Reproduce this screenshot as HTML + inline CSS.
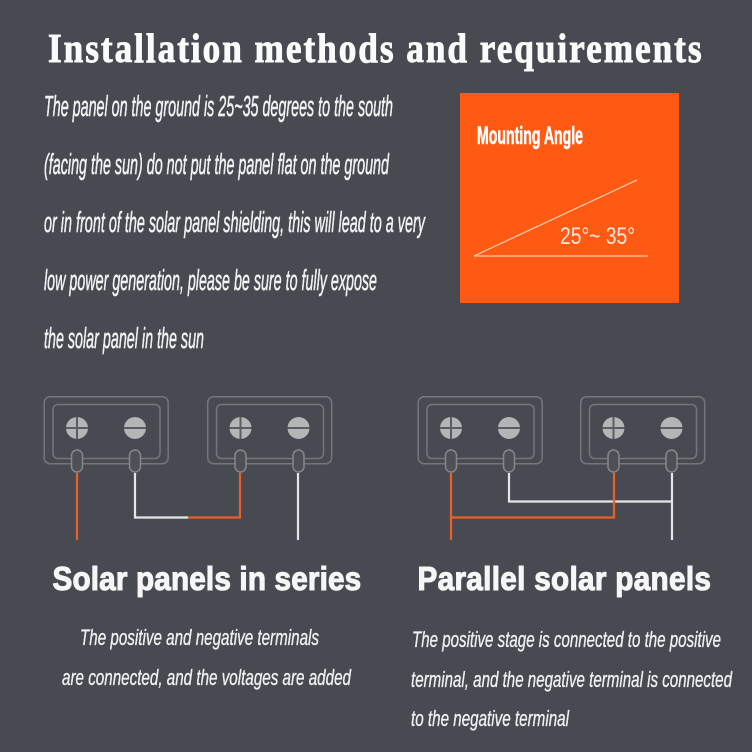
<!DOCTYPE html>
<html><head><meta charset="utf-8"><style>
html,body{margin:0;padding:0;background:#474b51;width:752px;height:752px;overflow:hidden}
svg{display:block}
.p{font-family:"Liberation Sans",sans-serif;font-style:italic;fill:#f2f2f3;font-size:29px;stroke:#f2f2f3;stroke-width:.55}
.c{font-family:"Liberation Sans",sans-serif;font-style:italic;fill:#f0f0f1;font-size:22px;stroke:#f0f0f1;stroke-width:.35}
.h{font-family:"Liberation Sans",sans-serif;font-weight:bold;fill:#f6f6f7;font-size:33px;stroke:#f6f6f7;stroke-width:1.1}
</style></head><body>
<svg width="752" height="752" viewBox="0 0 752 752" xmlns="http://www.w3.org/2000/svg">
<defs>
<g id="panel" fill="none">
  <rect x="0.7" y="0.7" width="124" height="67" rx="6" stroke="#73777b" stroke-width="1.5"/>
  <rect x="9.5" y="8.5" width="107" height="54" rx="5" stroke="#73777b" stroke-width="1.5"/>
  <circle cx="33.5" cy="32" r="11" fill="#b4b5b7"/>
  <path d="M33.5 21v22M22.5 32h22" stroke="#5a5d62" stroke-width="2"/>
  <circle cx="91.5" cy="32" r="11" fill="#b4b5b7"/>
  <path d="M80.5 32h22" stroke="#5a5d62" stroke-width="2"/>
  <rect x="28" y="54" width="11" height="22" rx="5.5" fill="#4d5156" stroke="#85888b" stroke-width="1.5"/>
  <rect x="86" y="54" width="11" height="22" rx="5.5" fill="#4d5156" stroke="#85888b" stroke-width="1.5"/>
</g>
</defs>
<rect width="752" height="752" fill="#474b51"/>
<text transform="translate(48,62) scale(.86,1)" x="0" y="0" textLength="760" lengthAdjust="spacing" font-family="'Liberation Serif',serif" font-weight="bold" font-size="41" fill="#fafafa" stroke="#fafafa" stroke-width=".9">Installation methods and requirements</text>

<text class="p" x="44" y="116" textLength="349" lengthAdjust="spacingAndGlyphs">The panel on the ground is 25~35 degrees to the south</text>
<text class="p" x="44" y="174" textLength="345" lengthAdjust="spacingAndGlyphs">(facing the sun) do not put the panel flat on the ground</text>
<text class="p" x="44" y="232" textLength="381" lengthAdjust="spacingAndGlyphs">or in front of the solar panel shielding, this will lead to a very</text>
<text class="p" x="44" y="290" textLength="333" lengthAdjust="spacingAndGlyphs">low power generation, please be sure to fully expose</text>
<text class="p" x="44" y="348" textLength="160" lengthAdjust="spacingAndGlyphs">the solar panel in the sun</text>

<rect x="460" y="93" width="219" height="210" fill="#ff5a14"/>
<text x="477" y="144" textLength="106" lengthAdjust="spacingAndGlyphs" font-family="'Liberation Sans',sans-serif" font-weight="bold" font-size="25" fill="#fff" stroke="#fff" stroke-width=".6">Mounting Angle</text>
<path d="M474 256L637 180M474 256H648" stroke="#ffc4a6" stroke-width="1.3" fill="none"/>
<text x="560" y="244" textLength="75" lengthAdjust="spacingAndGlyphs" font-family="'Liberation Sans',sans-serif" font-size="24" fill="#ffe6d8">25°~ 35°</text>

<use href="#panel" x="43.5" y="396"/>
<use href="#panel" x="207" y="396"/>
<use href="#panel" x="417.5" y="396"/>
<use href="#panel" x="580" y="396"/>

<g fill="none" stroke-width="2.2">
  <path d="M77 473V540" stroke="#e9602a"/>
  <path d="M135 473V517.5H188" stroke="#e6e6e6"/>
  <path d="M188 517.5H240V473" stroke="#e9602a"/>
  <path d="M298 473V540" stroke="#e6e6e6"/>
  <path d="M509 473V501.5H672" stroke="#e6e6e6"/>
  <path d="M672 473V540" stroke="#e6e6e6"/>
  <path d="M451 473V540M451 517.5H614V473" stroke="#e9602a"/>
</g>

<text class="h" transform="translate(52.5,590) scale(.9,1)" x="0" y="0" textLength="343" lengthAdjust="spacing">Solar panels in series</text>
<text class="h" transform="translate(417.5,590) scale(.9,1)" x="0" y="0" textLength="326" lengthAdjust="spacing">Parallel solar panels</text>

<text class="c" x="80" y="645" textLength="239" lengthAdjust="spacingAndGlyphs">The positive and negative terminals</text>
<text class="c" x="62" y="685" textLength="289" lengthAdjust="spacingAndGlyphs">are connected, and the voltages are added</text>
<text class="c" x="412" y="647" textLength="309" lengthAdjust="spacingAndGlyphs">The positive stage is connected to the positive</text>
<text class="c" x="411" y="687" textLength="321" lengthAdjust="spacingAndGlyphs">terminal, and the negative terminal is connected</text>
<text class="c" x="411" y="726" textLength="158" lengthAdjust="spacingAndGlyphs">to the negative terminal</text>
</svg>
</body></html>
